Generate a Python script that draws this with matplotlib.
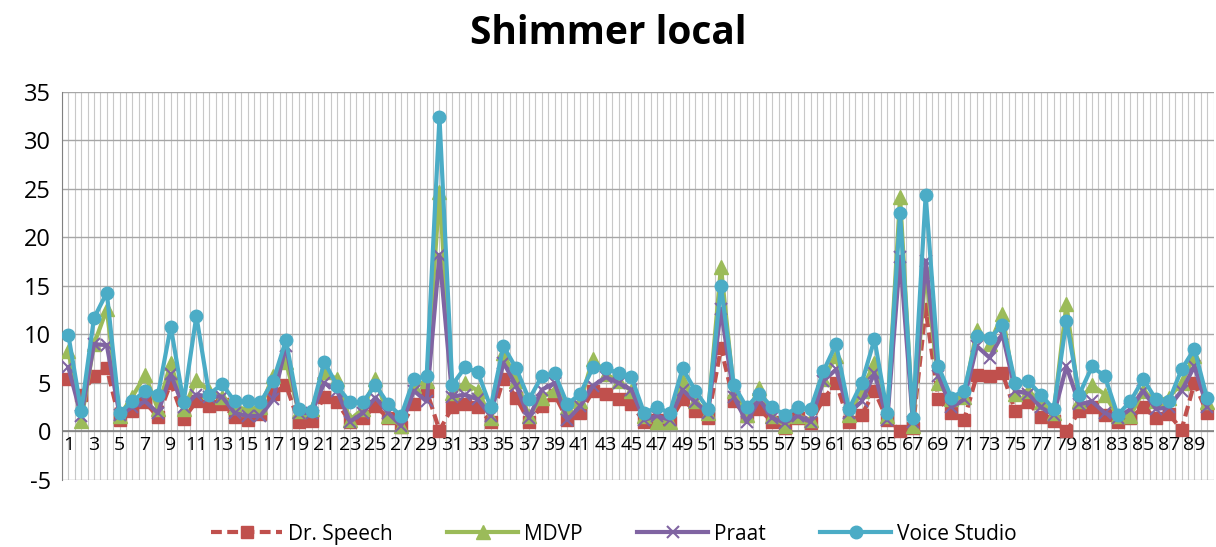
import numpy as np
import matplotlib
matplotlib.use("Agg")
import matplotlib.pyplot as plt

# ── Data ──────────────────────────────────────────────────────────────────────
samples = list(range(1, 91))

dr_speech = [5.4, 3.8, 5.7, 6.5, 1.2, 2.1, 3.0, 1.5, 5.0, 1.3,
             3.1, 2.6, 2.8, 1.5, 1.2, 1.8, 3.9, 4.8, 1.0, 1.1,
             3.6, 3.0, 1.0, 1.4, 2.6, 1.4, 0.5, 2.8, 4.2, 0.1,
             2.5, 2.8, 2.5, 1.0, 5.4, 3.5, 1.0, 2.6, 3.8, 1.2,
             1.9, 4.2, 3.9, 3.3, 2.8, 1.0, 1.2, 1.0, 3.3, 2.1,
             1.4, 8.6, 3.1, 1.6, 2.3, 1.0, 0.4, 1.4, 0.9, 3.3,
             5.0, 1.0, 1.7, 4.2, 1.2, 0.1, 0.4, 12.6, 3.3, 1.9,
             1.2, 5.8, 5.7, 6.0, 2.1, 3.0, 1.5, 1.1, 0.0, 2.1,
             2.5, 1.7, 1.0, 1.4, 2.5, 1.4, 1.8, 0.2, 5.0, 1.9]

mdvp = [8.3, 1.1, 9.0, 12.6, 1.6, 3.6, 5.8, 2.3, 7.1, 2.3,
        5.3, 4.2, 3.6, 2.5, 2.3, 2.5, 5.7, 7.2, 2.1, 2.3,
        6.1, 5.4, 1.2, 2.3, 5.4, 1.6, 0.6, 4.7, 5.2, 24.7,
        4.0, 5.0, 4.2, 1.4, 8.1, 5.2, 1.6, 3.5, 4.3, 2.5,
        3.1, 7.5, 5.9, 5.2, 4.2, 1.6, 1.0, 1.0, 5.2, 3.1,
        1.9, 17.0, 4.2, 1.7, 4.5, 1.6, 0.6, 1.6, 1.2, 5.4,
        7.8, 1.7, 4.2, 7.1, 1.6, 24.2, 0.6, 16.5, 5.0, 3.3,
        3.6, 10.5, 9.0, 12.1, 3.9, 4.2, 3.0, 1.9, 13.1, 3.1,
        4.8, 3.8, 1.6, 1.6, 4.2, 3.1, 3.5, 5.0, 7.8, 3.0]

praat = [6.6, 1.6, 9.0, 8.9, 1.7, 2.5, 3.1, 1.9, 5.9, 2.5,
         3.8, 3.6, 3.6, 1.9, 1.6, 1.6, 3.3, 8.8, 1.9, 1.9,
         5.0, 4.2, 1.0, 1.9, 3.5, 1.9, 0.6, 4.2, 3.1, 18.2,
         3.6, 3.8, 3.3, 1.6, 7.1, 4.7, 1.4, 4.3, 5.0, 1.2,
         2.6, 4.7, 5.6, 5.0, 4.3, 1.2, 1.6, 1.2, 4.3, 3.0,
         1.9, 12.6, 3.6, 1.0, 3.3, 1.4, 0.9, 1.6, 1.0, 5.2,
         6.4, 1.9, 3.1, 6.0, 1.2, 18.0, 1.0, 17.6, 5.7, 2.5,
         3.3, 8.8, 7.6, 10.0, 4.2, 3.9, 2.5, 1.7, 6.7, 2.8,
         3.1, 1.9, 1.4, 2.3, 4.2, 2.3, 2.5, 4.2, 6.7, 2.5]

voice_studio = [9.9, 2.1, 11.7, 14.3, 1.9, 3.1, 4.2, 3.8, 10.8, 3.0,
                11.9, 3.8, 4.9, 3.1, 3.1, 3.0, 5.2, 9.4, 2.3, 2.1,
                7.2, 4.7, 3.0, 3.0, 4.8, 2.8, 1.6, 5.4, 5.7, 32.4,
                4.8, 6.6, 6.1, 2.5, 8.8, 6.5, 3.3, 5.7, 6.0, 2.8,
                3.9, 6.6, 6.5, 6.0, 5.6, 1.9, 2.5, 1.9, 6.5, 4.2,
                2.3, 15.0, 4.8, 2.5, 3.9, 2.5, 1.7, 2.5, 2.3, 6.2,
                9.0, 2.3, 5.0, 9.5, 1.9, 22.5, 1.4, 24.4, 6.7, 3.5,
                4.2, 9.8, 9.6, 11.0, 5.0, 5.2, 3.8, 2.3, 11.4, 3.8,
                6.7, 5.7, 1.7, 3.1, 5.4, 3.3, 3.1, 6.4, 8.5, 3.4]

# ── Figure ─────────────────────────────────────────────────────────────────────
plt.rcParams["font.family"] = ["Open Sans", "DejaVu Sans"]
plt.rcParams["axes.unicode_minus"] = False

fig = plt.figure(figsize=(12.16, 5.47), dpi=100)
ax = fig.add_axes([0.051, 0.1225, 0.947, 0.7095])

x = np.array(samples)
ax.set_xlim(0.5, len(samples) + 0.5)
ax.set_ylim(-5, 35)

# gridlines: every half category vertically, every 5 horizontally
for gx in np.arange(0.5, len(samples) + 0.51, 0.5):
    ax.axvline(gx, color="#c8c8c8", lw=0.8, zorder=0)
for gy in range(-5, 36, 5):
    ax.axhline(gy, color="#a6a6a6", lw=1.0, zorder=0)
ax.axhline(0, color="#808080", lw=1.2, zorder=1)

ax.plot(x, dr_speech, color="#c0504d", lw=3, ls=(0, (2.6, 1.3)),
        marker="s", ms=8, mec="#c0504d", label="Dr. Speech", zorder=3)
ax.plot(x, mdvp, color="#9bbb59", lw=3, marker="^", ms=10,
        mec="#9bbb59", label="MDVP", zorder=4)
ax.plot(x, praat, color="#8064a2", lw=3, marker="x", ms=8, mew=1.5,
        mec="#8064a2", label="Praat", zorder=5)
ax.plot(x, voice_studio, color="#4bacc6", lw=3, marker="o", ms=9,
        mec="#4bacc6", label="Voice Studio", zorder=6)

ax.set_yticks(range(-5, 36, 5))
ax.tick_params(axis="y", length=0, labelsize=17, pad=8)
ax.set_xticks([])

# category labels sit just below the zero axis
for i in samples[::2]:
    ax.text(i, -0.5, str(i), ha="center", va="top", fontsize=14, zorder=2)

for side in ["top", "right", "bottom"]:
    ax.spines[side].set_visible(False)
ax.spines["left"].set_color("#808080")

fig.suptitle("Shimmer local", fontsize=28, fontweight="bold", y=0.975)

fig.legend(loc="lower center", ncol=4, frameon=False, fontsize=15,
           handlelength=3.4, handletextpad=0.3, columnspacing=2.6,
           bbox_to_anchor=(0.505, -0.03))

fig.savefig("out.png", dpi=100)
